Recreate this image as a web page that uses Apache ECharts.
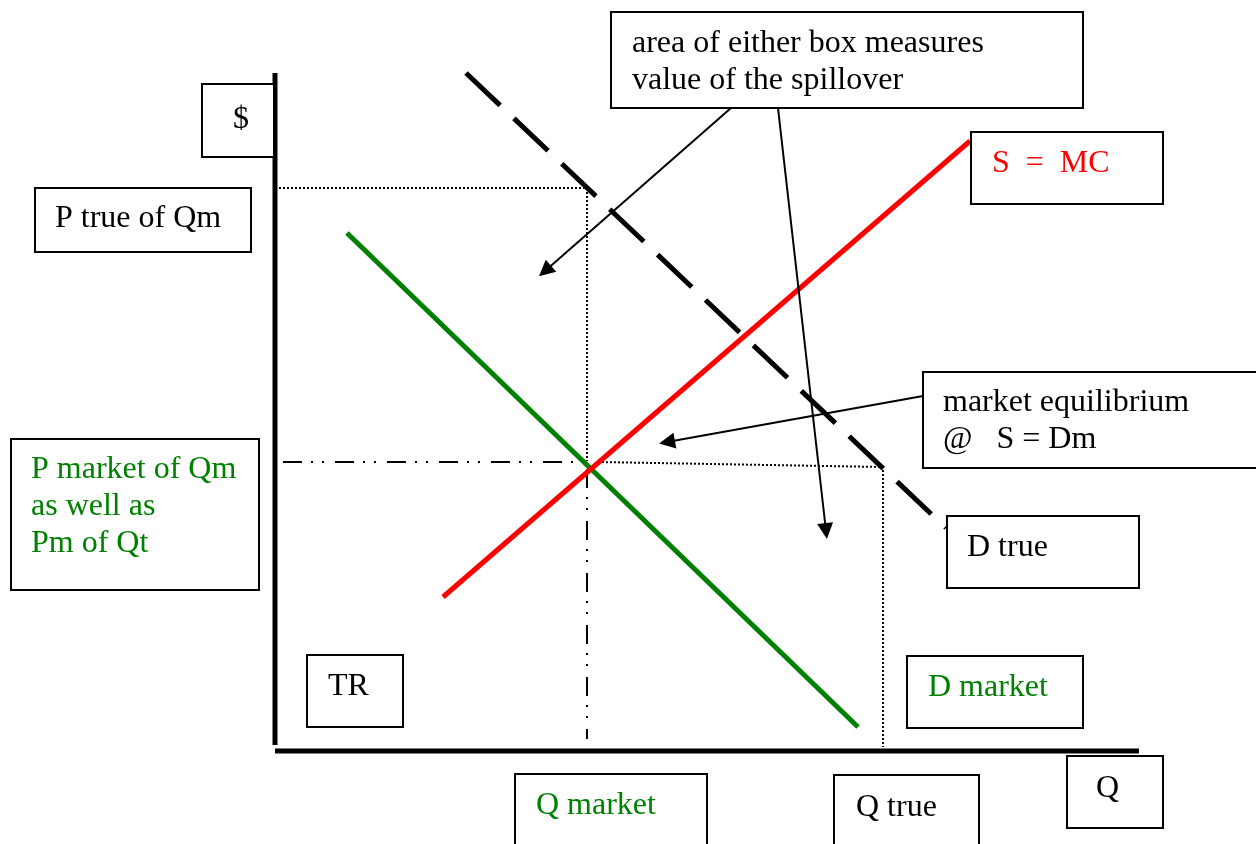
<!DOCTYPE html>
<html>
<head>
<meta charset="utf-8">
<script src="https://cdn.jsdelivr.net/npm/echarts@6/dist/echarts.min.js"></script>
<style>
html,body{margin:0;padding:0;background:#fff;}
#chart{width:1256px;height:844px;}
</style>
</head>
<body>
<div id="chart"></div>
<script>
// ---- Data (Q units horizontally, $ units vertically; origin at axes crossing) ----
const supplyMC     = [[16.8, 15.3], [69.5, 60.9]];          // S = MC (red)
const demandMarket = [[7.2, 51.7], [58.3, 2.3]];            // D market (green)
const demandTrue   = [[19.1, 67.7], [67.1, 22.2]];          // D true (dashed)
const axisP        = [[0, 67.7], [0, 0.5]];                  // $ axis
const axisQ        = [[0, -0.1], [86.4, -0.1]];              // Q axis
const guidePTrue   = [[0.4, 56.2], [31.2, 56.2], [31.2, 28.9]];   // dotted to P true
const guidePMarket = [[0.8, 28.8], [31.5, 28.8]];                 // dash-dot P market
const guideQMarket = [[31.2, 28.1], [31.2, 1.1]];                 // dash-dot Q market
const guideQTrue   = [[32.3, 28.8], [60.8, 28.3], [60.8, 0.3]];   // dotted to Q true
// arrow start -> arrowhead centre
const arrows = [
  [[45.6, 64.2], [27.0, 47.9]],
  [[50.3, 64.2], [55.1, 21.9]],
  [[64.8, 35.4], [39.2, 30.8]]
];
const labels = {
  dollar: '$',
  pTrue: 'P true of Qm',
  spill: 'area of either box measures\nvalue of the spillover',
  smc: 'S  =  MC',
  eq: 'market equilibrium\n@   S = Dm',
  pMarket: 'P market of Qm\nas well as\nPm of Qt',
  dTrue: 'D true',
  tr: 'TR',
  dMarket: 'D market',
  qMarket: 'Q market',
  qTrue: 'Q true',
  q: 'Q'
};

const RED = '#ff0000', GREEN = '#008000', BLACK = '#000000';
const FONT = '32px "Liberation Serif", "Times New Roman", serif';

function seg(data, color, width, type, z) {
  return {
    type: 'line', data: data, showSymbol: false, symbol: 'none', silent: true,
    animation: false, z: z || 2,
    lineStyle: { color: color, width: width, type: type || 'solid', cap: 'butt' }
  };
}

function box(x, y, w, h, text, color, tx, ty) {
  return {
    type: 'group', z: 100,
    children: [
      { type: 'rect', shape: { x: x, y: y, width: w, height: h },
        style: { fill: '#fff', stroke: '#000', lineWidth: 2 }, z: 100 },
      { type: 'text', x: tx, y: ty, z: 101,
        style: { text: text, font: FONT, fill: color, lineHeight: 37,
                 textAlign: 'left', textVerticalAlign: 'top' } }
    ]
  };
}

const chart = echarts.init(document.getElementById('chart'), null, { renderer: 'canvas' });
chart.setOption({
  animation: false,
  backgroundColor: '#fff',
  grid: { left: 0, right: 0, top: 0, bottom: 0 },
  xAxis: { type: 'value', min: -27.5, max: 98.1, show: false },
  yAxis: { type: 'value', min: -9.4, max: 75.0, show: false },
  series: [
    seg(axisP, BLACK, 5, 'solid', 5),
    seg(axisQ, BLACK, 5, 'solid', 5),
    seg(guidePTrue, BLACK, 2, [2, 2]),
    seg(guidePMarket, BLACK, 2, [19, 9, 2, 9, 2, 11]),
    seg(guideQMarket, BLACK, 2, [19, 9, 2, 9, 2, 11]),
    seg(guideQTrue, BLACK, 2, [2, 2]),
    seg(demandTrue, BLACK, 5, [47, 19], 3),
    seg(demandMarket, GREEN, 5, 'solid', 4),
    seg(supplyMC, RED, 5, 'solid', 4),
    {
      type: 'lines', coordinateSystem: 'cartesian2d', silent: true, animation: false, z: 6,
      symbol: ['none', 'triangle'], symbolSize: [12, 16],
      lineStyle: { color: BLACK, width: 2, opacity: 1, curveness: 0 },
      itemStyle: { color: BLACK },
      data: arrows.map(a => ({ coords: a }))
    }
  ],
  graphic: [
    box(202, 84, 72, 73, labels.dollar, BLACK, 233, 101),
    box(35, 188, 216, 64, labels.pTrue, BLACK, 55, 200),
    box(611, 12, 472, 96, labels.spill, BLACK, 632, 25),
    box(971, 132, 192, 72, labels.smc, RED, 992, 145),
    box(923, 372, 345, 96, labels.eq, BLACK, 943, 384),
    box(11, 439, 248, 151, labels.pMarket, GREEN, 31, 451),
    box(947, 516, 192, 72, labels.dTrue, BLACK, 967, 529),
    box(307, 655, 96, 72, labels.tr, BLACK, 328, 668),
    box(907, 656, 176, 72, labels.dMarket, GREEN, 928, 669),
    box(515, 774, 192, 90, labels.qMarket, GREEN, 536, 787),
    box(834, 775, 145, 90, labels.qTrue, BLACK, 856, 789),
    box(1067, 756, 96, 72, labels.q, BLACK, 1096, 770)
  ]
});
</script>
</body>
</html>
